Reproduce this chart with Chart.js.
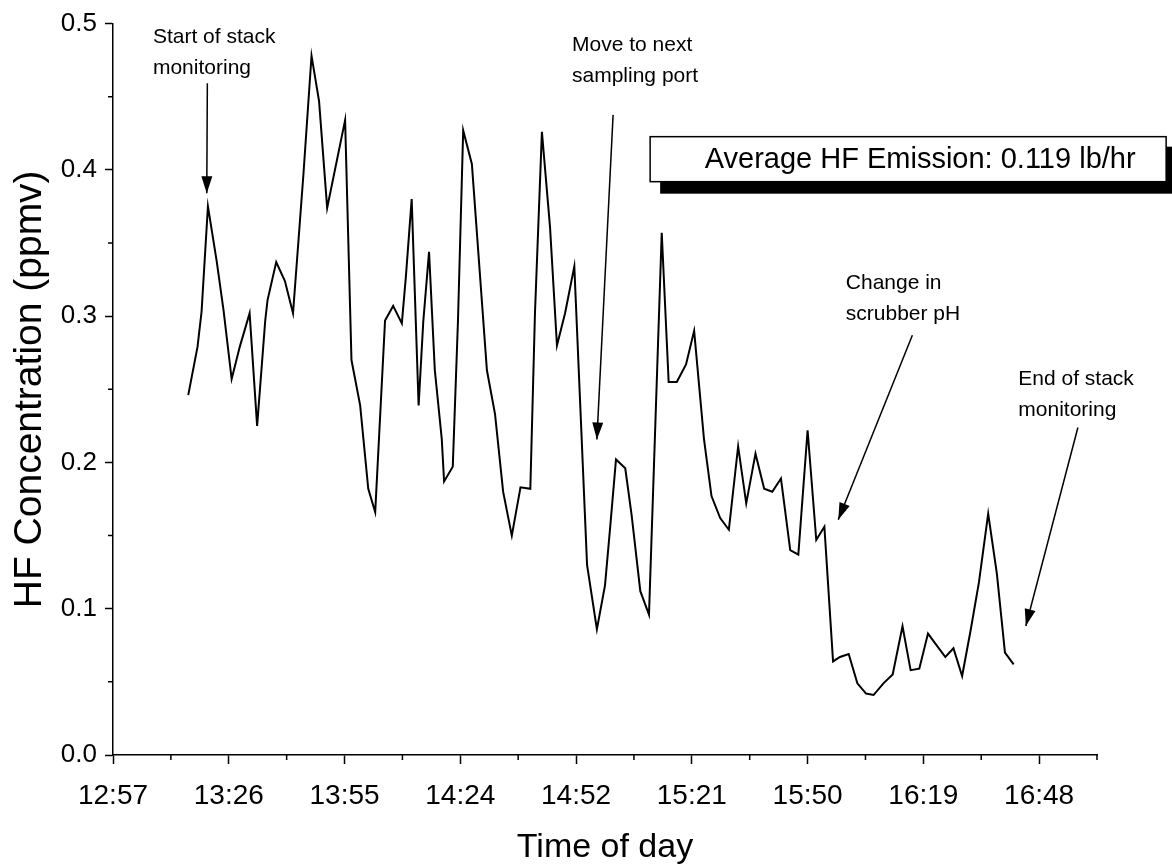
<!DOCTYPE html>
<html>
<head>
<meta charset="utf-8">
<script src="https://cdn.jsdelivr.net/npm/chart.js@4"></script>
<style>
  html, body { margin: 0; padding: 0; background: #fff; }
  #wrap { width: 1172px; height: 867px; }
</style>
</head>
<body>
<div id="wrap"><canvas id="hfChart" width="1172" height="867"></canvas></div>
<script>
// --- Data (time as fraction of a day, HF in ppmv) ---
const times = [
  0.5530, 0.5546, 0.5553, 0.5564, 0.5579, 0.5591, 0.5605, 0.5619, 0.5636, 0.5649,
  0.5663, 0.5667, 0.5682, 0.5697, 0.5711, 0.5729, 0.5743, 0.5756, 0.5770, 0.5801,
  0.5812, 0.5827, 0.5841, 0.5853, 0.5870, 0.5884, 0.5899, 0.5906, 0.5916, 0.5928,
  0.5936, 0.5946, 0.5956, 0.5968, 0.5972, 0.5987, 0.5996, 0.6005, 0.6020, 0.6046,
  0.6060, 0.6074, 0.6089, 0.6104, 0.6121, 0.6129, 0.6141, 0.6155, 0.6167, 0.6181,
  0.6197, 0.6219, 0.6236, 0.6250, 0.6259, 0.6269, 0.6285, 0.6296, 0.6311, 0.6326,
  0.6348, 0.6360, 0.6374, 0.6390, 0.6404, 0.6421, 0.6434, 0.6449, 0.6464, 0.6480,
  0.6494, 0.6510, 0.6525, 0.6539, 0.6554, 0.6570, 0.6584, 0.6600, 0.6615, 0.6629,
  0.6644, 0.6656, 0.6671, 0.6686, 0.6701, 0.6714, 0.6731, 0.6747, 0.6764, 0.6778,
  0.6793, 0.6808, 0.6823, 0.6838, 0.6852, 0.6867, 0.6882, 0.6896, 0.6912, 0.6927,
  0.6941, 0.6956
];
const hf = [
  0.246, 0.279, 0.303, 0.375, 0.338, 0.304, 0.257, 0.279, 0.302, 0.225,
  0.297, 0.311, 0.337, 0.324, 0.302, 0.397, 0.478, 0.447, 0.374, 0.434,
  0.270, 0.239, 0.182, 0.166, 0.297, 0.307, 0.295, 0.327, 0.380, 0.239,
  0.296, 0.344, 0.263, 0.216, 0.187, 0.197, 0.297, 0.427, 0.404, 0.263,
  0.233, 0.180, 0.150, 0.183, 0.182, 0.302, 0.426, 0.361, 0.280, 0.302,
  0.334, 0.130, 0.086, 0.116, 0.156, 0.202, 0.196, 0.164, 0.112, 0.096,
  0.357, 0.255, 0.255, 0.267, 0.290, 0.216, 0.177, 0.162, 0.154, 0.211,
  0.172, 0.206, 0.182, 0.180, 0.189, 0.140, 0.137, 0.222, 0.147, 0.156,
  0.064, 0.067, 0.069, 0.049, 0.042, 0.041, 0.049, 0.055, 0.088, 0.058,
  0.059, 0.083, 0.075, 0.067, 0.073, 0.054, 0.086, 0.118, 0.165, 0.124,
  0.070, 0.062
];

const xTicks = [0.54, 0.56, 0.58, 0.60, 0.62, 0.64, 0.66, 0.68, 0.70];
const xTickLabels = ['12:57', '13:26', '13:55', '14:24', '14:52', '15:21', '15:50', '16:19', '16:48'];
const xMinor = [0.55, 0.57, 0.59, 0.61, 0.63, 0.65, 0.67, 0.69, 0.71];
const yTicks = [0, 0.1, 0.2, 0.3, 0.4, 0.5];
const yTickLabels = ['0.0', '0.1', '0.2', '0.3', '0.4', '0.5'];
const yMinor = [0.05, 0.15, 0.25, 0.35, 0.45];

// notes: text lines at (x, y) in data units, arrow from -> to
const notes = [
  { lines: ['Start of stack', 'monitoring'], at: [0.5469, 0.4905], from: [0.5563, 0.4593], to: [0.5562, 0.384] },
  { lines: ['Move to next', 'sampling port'], at: [0.6193, 0.4851], from: [0.6264, 0.4376], to: [0.6236, 0.2157] },
  { lines: ['Change in', 'scrubber pH'], at: [0.6666, 0.3223], from: [0.6781, 0.2870], to: [0.6653, 0.1608] },
  { lines: ['End of stack', 'monitoring'], at: [0.6964, 0.2571], from: [0.7067, 0.2239], to: [0.6977, 0.0882] }
];
const avgText = 'Average HF Emission: 0.119 lb/hr';

const SANS = "'Liberation Sans', Arial, sans-serif";

// --- Extra drawing: minor ticks, notes, box ---
const extras = {
  id: 'extras',
  afterDraw(chart) {
    const { ctx, scales: { x, y } } = chart;
    const bx = y.getPixelForValue(0), lx = x.getPixelForValue(0.54);
    ctx.save();
    ctx.strokeStyle = '#000';
    ctx.lineWidth = 1.5;
    ctx.beginPath();
    xMinor.forEach(v => { const p = x.getPixelForValue(v); ctx.moveTo(p, bx); ctx.lineTo(p, bx + 5); });
    yMinor.forEach(v => { const p = y.getPixelForValue(v); ctx.moveTo(lx, p); ctx.lineTo(lx - 5, p); });
    ctx.stroke();

    // annotation text + arrows
    ctx.fillStyle = '#000';
    ctx.font = '21px ' + SANS;
    ctx.textBaseline = 'middle';
    ctx.textAlign = 'left';
    notes.forEach(n => {
      const tx = x.getPixelForValue(n.at[0]), ty = y.getPixelForValue(n.at[1]);
      n.lines.forEach((l, i) => ctx.fillText(l, tx, ty + i * 31));
      const x1 = x.getPixelForValue(n.from[0]), y1 = y.getPixelForValue(n.from[1]);
      const x2 = x.getPixelForValue(n.to[0]), y2 = y.getPixelForValue(n.to[1]);
      const a = Math.atan2(y2 - y1, x2 - x1);
      ctx.lineWidth = 1.5;
      ctx.beginPath(); ctx.moveTo(x1, y1); ctx.lineTo(x2, y2); ctx.stroke();
      ctx.beginPath();
      ctx.moveTo(x2, y2);
      ctx.lineTo(x2 - 17 * Math.cos(a) + 5.5 * Math.sin(a), y2 - 17 * Math.sin(a) - 5.5 * Math.cos(a));
      ctx.lineTo(x2 - 17 * Math.cos(a) - 5.5 * Math.sin(a), y2 - 17 * Math.sin(a) + 5.5 * Math.cos(a));
      ctx.closePath(); ctx.fill();
    });

    // average box with heavy shadow
    const L = x.getPixelForValue(0.6328), T = y.getPixelForValue(0.4227);
    const W = 516, H = 45;
    ctx.fillRect(L + 10, T + 10, W, H + 2);
    ctx.fillStyle = '#fff';
    ctx.fillRect(L, T, W, H);
    ctx.lineWidth = 1.5;
    ctx.strokeRect(L, T, W, H);
    ctx.fillStyle = '#000';
    ctx.font = '29px ' + SANS;
    ctx.textAlign = 'center';
    ctx.fillText(avgText, L + W / 2 + 12, T + H / 2 + 1);
    ctx.restore();
  }
};

new Chart(document.getElementById('hfChart'), {
  type: 'line',
  data: {
    datasets: [{
      data: times.map((t, i) => ({ x: t, y: hf[i] })),
      borderColor: '#000',
      borderWidth: 2,
      pointRadius: 0,
      tension: 0,
      fill: false
    }]
  },
  options: {
    responsive: false,
    animation: false,
    layout: { padding: { top: 18, right: 75, left: 0, bottom: 0 } },
    plugins: { legend: { display: false }, tooltip: { enabled: false } },
    scales: {
      x: {
        type: 'linear',
        min: 0.54,
        max: 0.71,
        afterBuildTicks: s => { s.ticks = xTicks.map(v => ({ value: v })); },
        afterFit: s => { s.height = 112; },
        ticks: {
          callback: (v, i) => xTickLabels[i],
          color: '#000',
          font: { family: SANS, size: 28 },
          padding: 15,
          maxRotation: 0,
          autoSkip: false
        },
        grid: { drawOnChartArea: false, tickLength: 9, tickColor: '#000', tickWidth: 1.5 },
        border: { color: '#000', width: 1.5 },
        title: {
          display: true,
          text: 'Time of day',
          color: '#000',
          font: { family: SANS, size: 34, lineHeight: 1 },
          padding: { top: 0, bottom: 2 }
        }
      },
      y: {
        min: 0,
        max: 0.5,
        afterBuildTicks: s => { s.ticks = yTicks.map(v => ({ value: v })); },
        afterFit: s => { s.width = 113; },
        ticks: {
          callback: (v, i) => yTickLabels[i],
          color: '#000',
          font: { family: SANS, size: 26 },
          padding: 8
        },
        grid: { drawOnChartArea: false, tickLength: 8, tickColor: '#000', tickWidth: 1.5 },
        border: { color: '#000', width: 1.5 },
        title: {
          display: true,
          text: 'HF Concentration (ppmv)',
          color: '#000',
          font: { family: SANS, size: 39, lineHeight: 1 },
          padding: { top: 11, bottom: 0 }
        }
      }
    }
  },
  plugins: [extras]
});
</script>
</body>
</html>
